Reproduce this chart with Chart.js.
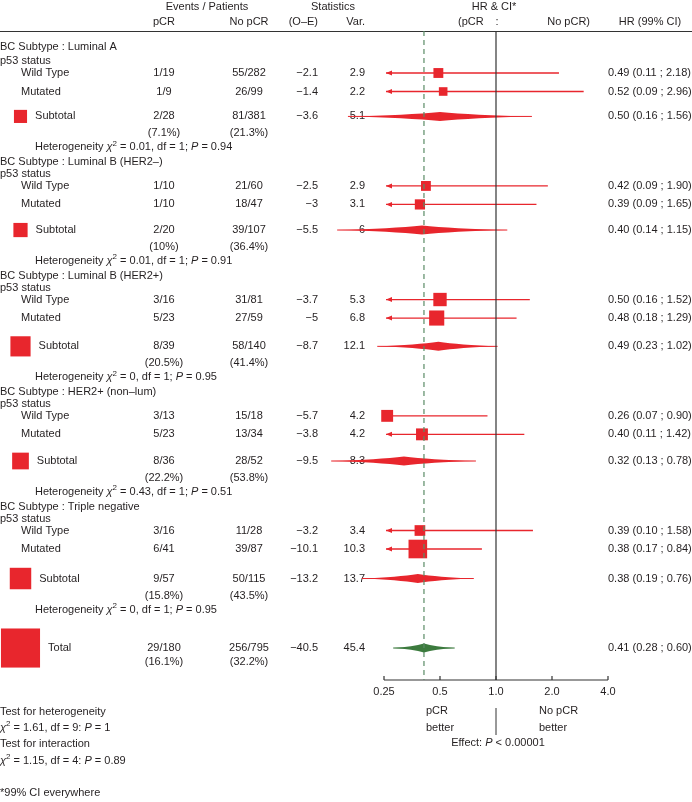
<!DOCTYPE html>
<html>
<head>
<meta charset="utf-8">
<script src="https://cdn.jsdelivr.net/npm/chart.js@4.4.1/dist/chart.umd.min.js"></script>
<style>
    html, body { margin: 0; padding: 0; background: #ffffff; }
    #forest { display: block; }
</style>
</head>
<body>
<canvas id="forest" width="692" height="802"></canvas>
<script>
// ---- data ----
const subtypes = ['Luminal A', 'Luminal B (HER2\u2013)', 'Luminal B (HER2+)', 'HER2+ (non\u2013lum)', 'Triple negative'];

const wildPcr = ['1/19', '1/10', '3/16', '3/13', '3/16'];
const wildNoPcr = ['55/282', '21/60', '31/81', '15/18', '11/28'];
const wildOE = [-2.1, -2.5, -3.7, -5.7, -3.2];
const wildVar = [2.9, 2.9, 5.3, 4.2, 3.4];
const wildHR = [0.49, 0.42, 0.50, 0.26, 0.39];
const wildLo = [0.11, 0.09, 0.16, 0.07, 0.10];
const wildHi = [2.18, 1.90, 1.52, 0.90, 1.58];

const mutPcr = ['1/9', '1/10', '5/23', '5/23', '6/41'];
const mutNoPcr = ['26/99', '18/47', '27/59', '13/34', '39/87'];
const mutOE = [-1.4, -3, -5, -3.8, -10.1];
const mutVar = [2.2, 3.1, 6.8, 4.2, 10.3];
const mutHR = [0.52, 0.39, 0.48, 0.40, 0.38];
const mutLo = [0.09, 0.09, 0.18, 0.11, 0.17];
const mutHi = [2.96, 1.65, 1.29, 1.42, 0.84];

const subPcr = ['2/28', '2/20', '8/39', '8/36', '9/57'];
const subPcrPct = ['7.1', '10', '20.5', '22.2', '15.8'];
const subNoPcr = ['81/381', '39/107', '58/140', '28/52', '50/115'];
const subNoPcrPct = ['21.3', '36.4', '41.4', '53.8', '43.5'];
const subOE = [-3.6, -5.5, -8.7, -9.5, -13.2];
const subVar = [5.1, 6, 12.1, 8.3, 13.7];
const subHR = [0.50, 0.40, 0.49, 0.32, 0.38];
const subLo = [0.16, 0.14, 0.23, 0.13, 0.19];
const subHi = [1.56, 1.15, 1.02, 0.78, 0.76];

const hetChi = ['0.01', '0.01', '0', '0.43', '0'];
const hetP = ['0.94', '0.91', '0.95', '0.51', '0.95'];

const totalPcr = '29/180';
const totalPcrPct = '16.1';
const totalNoPcr = '256/795';
const totalNoPcrPct = '32.2';
const totalOE = -40.5;
const totalVar = 45.4;
const totalHR = 0.41;
const totalLo = 0.28;
const totalHi = 0.60;

const tickValues = [0.25, 0.5, 1.0, 2.0, 4.0];
const tickLabels = ['0.25', '0.5', '1.0', '2.0', '4.0'];

// ---- styles ----
const RED = '#e8262d';
const GREEN = '#3c7b3e';
const INK = '#231f20';
const FONT = '"Liberation Sans", Arial, Helvetica, sans-serif';
const FS = 11;

const COL = { label: 21, pcr: 164, noPcr: 249, oe: 318, vari: 365, hr: 608 };

function side(v) { return 5.8 * Math.sqrt(v); }
function num(v) { return String(v).replace('-', '\u2212'); }
function hrText(h, l, u) { return `${h.toFixed(2)} (${l.toFixed(2)} ; ${u.toFixed(2)})`; }

// row positions (y units of the chart's y scale)
const rows = [];
let cursor = 42;
for (let g = 0; g < subtypes.length; g++) {
    const wild = cursor;
    const mut = wild + 18.5;
    const sub = mut + 19.5 + 0.25 * (side(mutVar[g]) + side(subVar[g]));
    // group title sits a little higher on the first block
    const head = g === 0 ? wild - 26 : wild - 24;
    rows.push({ head: head, p53: wild - 12, wild: wild, mut: mut, sub: sub });
    cursor = sub + 69.5;
}
const totalRow = cursor;

// ---- text helper: _italic_ and ^superscript^ ----
function segments(s) {
    const out = [];
    s.split(/(_[^_]+_|\^[^^]+\^)/g).forEach(p => {
        if (!p) return;
        if (p[0] === '_') out.push({ t: p.slice(1, -1), st: 'i' });
        else if (p[0] === '^') out.push({ t: p.slice(1, -1), st: 's' });
        else out.push({ t: p, st: 'n' });
    });
    return out;
}
function fontFor(st) {
    if (st === 'i') return `italic ${FS}px ${FONT}`;
    if (st === 's') return `${FS - 3}px ${FONT}`;
    return `${FS}px ${FONT}`;
}
function text(ctx, s, x, y, align) {
    const segs = segments(s);
    let w = 0;
    segs.forEach(sg => { ctx.font = fontFor(sg.st); sg.w = ctx.measureText(sg.t).width; w += sg.w; });
    let cx = align === 'center' ? x - w / 2 : (align === 'right' ? x - w : x);
    ctx.textAlign = 'left';
    ctx.textBaseline = 'middle';
    ctx.fillStyle = INK;
    segs.forEach(sg => {
        ctx.font = fontFor(sg.st);
        ctx.fillText(sg.t, cx, sg.st === 's' ? y - 4 : y);
        cx += sg.w;
    });
}

function diamond(ctx, xl, xc, xr, yc, h, color) {
    ctx.fillStyle = color;
    ctx.strokeStyle = color;
    ctx.beginPath();
    ctx.moveTo(xl, yc);
    ctx.quadraticCurveTo(xc - (xc - xl) * 0.35, yc - h * 0.3, xc, yc - h);
    ctx.quadraticCurveTo(xc + (xr - xc) * 0.35, yc - h * 0.3, xr, yc);
    ctx.quadraticCurveTo(xc + (xr - xc) * 0.35, yc + h * 0.3, xc, yc + h);
    ctx.quadraticCurveTo(xc - (xc - xl) * 0.35, yc + h * 0.3, xl, yc);
    ctx.fill();
    ctx.lineWidth = 1;
    ctx.beginPath();
    ctx.moveTo(xl, yc);
    ctx.lineTo(xr, yc);
    ctx.stroke();
}

function ciLine(ctx, xs, lo, hi, py) {
    const min = tickValues[0];
    const x0 = xs.getPixelForValue(Math.max(lo, min));
    const x1 = xs.getPixelForValue(hi);
    ctx.strokeStyle = RED;
    ctx.lineWidth = 1.3;
    ctx.beginPath();
    ctx.moveTo(x0 + (lo < min ? 2 : 0), py);
    ctx.lineTo(x1, py);
    ctx.stroke();
    if (lo < min) {
        const tip = x0 + 2;
        ctx.fillStyle = RED;
        ctx.beginPath();
        ctx.moveTo(tip, py);
        ctx.lineTo(tip + 6, py - 2.5);
        ctx.lineTo(tip + 6, py + 2.5);
        ctx.closePath();
        ctx.fill();
    }
}

const forestPlugin = {
    id: 'forest',
    beforeDatasetsDraw(chart) {
        const ctx = chart.ctx;
        const xs = chart.scales.x;
        const ys = chart.scales.y;
        const area = chart.chartArea;
        ctx.save();

        // header
        const h1 = area.top - 24, h2 = area.top - 9;
        text(ctx, 'Events / Patients', 207, h1, 'center');
        text(ctx, 'Statistics', 333, h1, 'center');
        text(ctx, 'HR & CI*', 494, h1, 'center');
        text(ctx, 'pCR', COL.pcr, h2, 'center');
        text(ctx, 'No pCR', COL.noPcr, h2, 'center');
        text(ctx, '(O\u2013E)', COL.oe, h2, 'right');
        text(ctx, 'Var.', COL.vari, h2, 'right');
        text(ctx, '(pCR', 458, h2, 'left');
        text(ctx, ':', 497, h2, 'center');
        text(ctx, 'No pCR)', 590, h2, 'right');
        text(ctx, 'HR (99% CI)', 650, h2, 'center');
        ctx.strokeStyle = '#333333';
        ctx.lineWidth = 1;
        ctx.beginPath();
        ctx.moveTo(0, area.top + 0.5);
        ctx.lineTo(chart.width, area.top + 0.5);
        ctx.stroke();

        // table rows
        subtypes.forEach((name, g) => {
            const r = rows[g];
            const pw = ys.getPixelForValue(r.wild);
            const pm = ys.getPixelForValue(r.mut);
            const ps = ys.getPixelForValue(r.sub);
            text(ctx, 'BC Subtype : ' + name, 0, ys.getPixelForValue(r.head), 'left');
            text(ctx, 'p53 status', 0, ys.getPixelForValue(r.p53), 'left');

            text(ctx, 'Wild Type', COL.label, pw, 'left');
            text(ctx, wildPcr[g], COL.pcr, pw, 'center');
            text(ctx, wildNoPcr[g], COL.noPcr, pw, 'center');
            text(ctx, num(wildOE[g]), COL.oe, pw, 'right');
            text(ctx, num(wildVar[g]), COL.vari, pw, 'right');
            text(ctx, hrText(wildHR[g], wildLo[g], wildHi[g]), COL.hr, pw, 'left');

            text(ctx, 'Mutated', COL.label, pm, 'left');
            text(ctx, mutPcr[g], COL.pcr, pm, 'center');
            text(ctx, mutNoPcr[g], COL.noPcr, pm, 'center');
            text(ctx, num(mutOE[g]), COL.oe, pm, 'right');
            text(ctx, num(mutVar[g]), COL.vari, pm, 'right');
            text(ctx, hrText(mutHR[g], mutLo[g], mutHi[g]), COL.hr, pm, 'left');

            const s = side(subVar[g]);
            ctx.fillStyle = RED;
            ctx.fillRect(20.5 - s / 2, ps - s / 2, s, s);
            text(ctx, 'Subtotal', 20.5 + s / 2 + 8, ps, 'left');
            text(ctx, subPcr[g], COL.pcr, ps, 'center');
            text(ctx, subNoPcr[g], COL.noPcr, ps, 'center');
            text(ctx, num(subOE[g]), COL.oe, ps, 'right');
            text(ctx, num(subVar[g]), COL.vari, ps, 'right');
            text(ctx, hrText(subHR[g], subLo[g], subHi[g]), COL.hr, ps, 'left');
            const pp = ys.getPixelForValue(r.sub + 17);
            text(ctx, `(${subPcrPct[g]}%)`, COL.pcr, pp, 'center');
            text(ctx, `(${subNoPcrPct[g]}%)`, COL.noPcr, pp, 'center');
            text(ctx, `Heterogeneity _\u03c7_^2^ = ${hetChi[g]}, df = 1; _P_ = ${hetP[g]}`, 35, ys.getPixelForValue(r.sub + 31), 'left');
        });

        // total row
        const pt = ys.getPixelForValue(totalRow);
        const ts = side(totalVar);
        ctx.fillStyle = RED;
        ctx.fillRect(20.5 - ts / 2, pt - ts / 2, ts, ts);
        text(ctx, 'Total', 20.5 + ts / 2 + 8, pt, 'left');
        text(ctx, totalPcr, COL.pcr, pt, 'center');
        text(ctx, totalNoPcr, COL.noPcr, pt, 'center');
        text(ctx, num(totalOE), COL.oe, pt, 'right');
        text(ctx, num(totalVar), COL.vari, pt, 'right');
        text(ctx, hrText(totalHR, totalLo, totalHi), COL.hr, pt, 'left');
        const ptp = ys.getPixelForValue(totalRow + 14);
        text(ctx, `(${totalPcrPct}%)`, COL.pcr, ptp, 'center');
        text(ctx, `(${totalNoPcrPct}%)`, COL.noPcr, ptp, 'center');

        // confidence intervals and diamonds
        subtypes.forEach((name, g) => {
            const r = rows[g];
            ciLine(ctx, xs, wildLo[g], wildHi[g], ys.getPixelForValue(r.wild));
            ciLine(ctx, xs, mutLo[g], mutHi[g], ys.getPixelForValue(r.mut));
            diamond(ctx, xs.getPixelForValue(subLo[g]), xs.getPixelForValue(subHR[g]),
                xs.getPixelForValue(subHi[g]), ys.getPixelForValue(r.sub), 4.5, RED);
        });
        diamond(ctx, xs.getPixelForValue(totalLo), xs.getPixelForValue(totalHR),
            xs.getPixelForValue(totalHi), pt, 4.5, GREEN);

        // x axis
        const ab = area.bottom;
        ctx.strokeStyle = '#333333';
        ctx.lineWidth = 1.2;
        ctx.beginPath();
        ctx.moveTo(xs.getPixelForValue(tickValues[0]), ab);
        ctx.lineTo(xs.getPixelForValue(tickValues[tickValues.length - 1]), ab);
        tickValues.forEach(v => {
            const px = xs.getPixelForValue(v);
            ctx.moveTo(px, ab);
            ctx.lineTo(px, ab - 4);
        });
        ctx.stroke();
        tickValues.forEach((v, i) => text(ctx, tickLabels[i], xs.getPixelForValue(v), ab + 12, 'center'));

        const one = xs.getPixelForValue(1);
        text(ctx, 'pCR', 437, ab + 31, 'center');
        text(ctx, 'better', 440, ab + 48, 'center');
        text(ctx, 'No pCR', 539, ab + 31, 'left');
        text(ctx, 'better', 539, ab + 48, 'left');
        ctx.lineWidth = 1;
        ctx.beginPath();
        ctx.moveTo(one, ab + 28);
        ctx.lineTo(one, ab + 55);
        ctx.stroke();
        text(ctx, 'Effect: _P_ < 0.00001', one + 2, ab + 63, 'center');

        text(ctx, 'Test for heterogeneity', 0, ab + 32, 'left');
        text(ctx, '_\u03c7_^2^ = 1.61, df = 9: _P_ = 1', 0, ab + 48, 'left');
        text(ctx, 'Test for interaction', 0, ab + 64, 'left');
        text(ctx, '_\u03c7_^2^ = 1.15, df = 4: _P_ = 0.89', 0, ab + 81, 'left');
        text(ctx, '*99% CI everywhere', 0, ab + 113, 'left');

        ctx.restore();
    },
    afterDatasetsDraw(chart) {
        const ctx = chart.ctx;
        const xs = chart.scales.x;
        const area = chart.chartArea;
        ctx.save();
        // line of no effect
        const one = xs.getPixelForValue(1);
        ctx.strokeStyle = '#333333';
        ctx.lineWidth = 1.2;
        ctx.beginPath();
        ctx.moveTo(one, area.top);
        ctx.lineTo(one, area.bottom);
        ctx.stroke();
        // overall effect
        const ov = xs.getPixelForValue(totalHR);
        ctx.strokeStyle = '#5b8c66';
        ctx.lineWidth = 1.2;
        ctx.setLineDash([5, 4]);
        ctx.beginPath();
        ctx.moveTo(ov, area.top);
        ctx.lineTo(ov, area.bottom);
        ctx.stroke();
        ctx.restore();
    }
};

// square markers for the individual estimates
const squarePoints = [];
const squareRadii = [];
subtypes.forEach((name, g) => {
    squarePoints.push({ x: wildHR[g], y: rows[g].wild });
    squareRadii.push(side(wildVar[g]) / Math.SQRT2);
    squarePoints.push({ x: mutHR[g], y: rows[g].mut });
    squareRadii.push(side(mutVar[g]) / Math.SQRT2);
});

const ctx = document.getElementById('forest').getContext('2d');
new Chart(ctx, {
    type: 'scatter',
    data: {
        datasets: [{
            data: squarePoints,
            pointStyle: 'rect',
            pointRadius: squareRadii,
            pointBackgroundColor: RED,
            pointBorderWidth: 0,
            pointBorderColor: RED,
            clip: false
        }]
    },
    options: {
        responsive: false,
        animation: false,
        events: [],
        layout: { padding: { left: 384, right: 84, top: 31, bottom: 122 } },
        scales: {
            x: { type: 'logarithmic', min: 0.25, max: 4, display: false },
            y: { type: 'linear', min: 0, max: 649, reverse: true, display: false }
        },
        plugins: {
            legend: { display: false },
            tooltip: { enabled: false }
        }
    },
    plugins: [forestPlugin]
});
</script>
</body>
</html>
